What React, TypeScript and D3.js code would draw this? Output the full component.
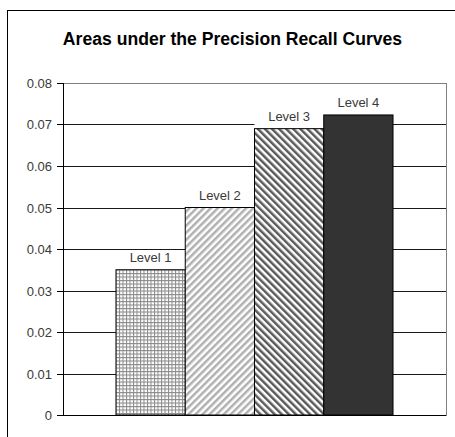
import React from 'react';
import { scaleLinear, scaleBand } from 'd3';

const categories = ['Level 1', 'Level 2', 'Level 3', 'Level 4'];
const values = [0.035, 0.05, 0.069, 0.0723];
const yTicks = [0, 0.01, 0.02, 0.03, 0.04, 0.05, 0.06, 0.07, 0.08];
const tickLabels = ['0', '0.01', '0.02', '0.03', '0.04', '0.05', '0.06', '0.07', '0.08'];
const title = 'Areas under the Precision Recall Curves';

const W = 455;
const H = 437;
const plot = { left: 63, right: 446, top: 83, bottom: 415 };
const fills = ['url(#grid)', 'url(#diagUp)', 'url(#diagDown)', '#333333'];
const font = "Arial, 'Liberation Sans', sans-serif";

export default function App() {
  const y = scaleLinear().domain([0, 0.08]).range([plot.bottom, plot.top]);
  const x = scaleBand<string>()
    .domain(categories)
    .range([plot.left, plot.right])
    .paddingInner(0)
    .paddingOuter(0.765);

  return (
    <svg
      width={W}
      height={H}
      viewBox={`0 0 ${W} ${H}`}
      style={{ position: 'absolute', left: 0, top: 0, background: '#fff' }}
    >
      <defs>
        <pattern id="grid" patternUnits="userSpaceOnUse" width={3.5} height={3.5}>
          <rect width={3.5} height={3.5} fill="#fff" />
          <path d="M0,0.5H3.5M0.5,0V3.5" stroke="#8a8a8a" strokeWidth={1} />
        </pattern>
        <pattern id="diagUp" patternUnits="userSpaceOnUse" width={5} height={5} patternTransform="rotate(45)">
          <rect width={5} height={5} fill="#fff" />
          <rect width={2.5} height={5} fill="#b0b0b0" />
        </pattern>
        <pattern id="diagDown" patternUnits="userSpaceOnUse" width={5} height={5} patternTransform="rotate(-45)">
          <rect width={5} height={5} fill="#fff" />
          <rect width={2.5} height={5} fill="#5a5a5a" />
        </pattern>
      </defs>

      <rect x={0} y={0} width={W} height={H} fill="#fff" />
      {/* chart area border, runs off the right and bottom edges */}
      <rect x={7.5} y={10.5} width={W + 10} height={H + 10} fill="none" stroke="#000" />

      <text
        x={232.5}
        y={45}
        textAnchor="middle"
        fontFamily={font}
        fontWeight="bold"
        fontSize={17.6}
        fill="#000"
      >
        {title}
      </text>

      {/* plot area border */}
      <rect
        x={plot.left + 0.5}
        y={plot.top + 0.5}
        width={plot.right - plot.left}
        height={plot.bottom - plot.top}
        fill="none"
        stroke="#808080"
      />

      {yTicks.map((t, i) => {
        const yy = Math.round(y(t)) + 0.5;
        return (
          <g key={t}>
            {t > 0 && t < 0.08 && (
              <line x1={plot.left} x2={plot.right} y1={yy} y2={yy} stroke="#1a1a1a" />
            )}
            <line x1={plot.left - 6} x2={plot.left} y1={yy} y2={yy} stroke="#000" />
            <text
              x={52}
              y={yy}
              dy="0.35em"
              textAnchor="end"
              fontFamily={font}
              fontSize={13}
              fill="#3a3a3a"
            >
              {tickLabels[i]}
            </text>
          </g>
        );
      })}

      {categories.map((c, i) => {
        const bx = x(c)!;
        const bw = x.bandwidth();
        const top = y(values[i]);
        return (
          <g key={c}>
            <rect x={bx} y={top - 19} width={bw} height={19} fill="#fff" />
            <rect
              x={bx}
              y={top}
              width={bw}
              height={plot.bottom - top}
              fill={fills[i]}
              stroke="#000"
              strokeWidth={1}
            />
            <text
              x={bx + bw / 2}
              y={top - 8}
              textAnchor="middle"
              fontFamily={font}
              fontSize={13}
              fill="#3a3a3a"
            >
              {c}
            </text>
          </g>
        );
      })}

      {/* axes */}
      <line x1={plot.left + 0.5} x2={plot.left + 0.5} y1={plot.top} y2={plot.bottom} stroke="#000" />
      <line x1={plot.left} x2={plot.right} y1={plot.bottom + 0.5} y2={plot.bottom + 0.5} stroke="#000" />
    </svg>
  );
}
